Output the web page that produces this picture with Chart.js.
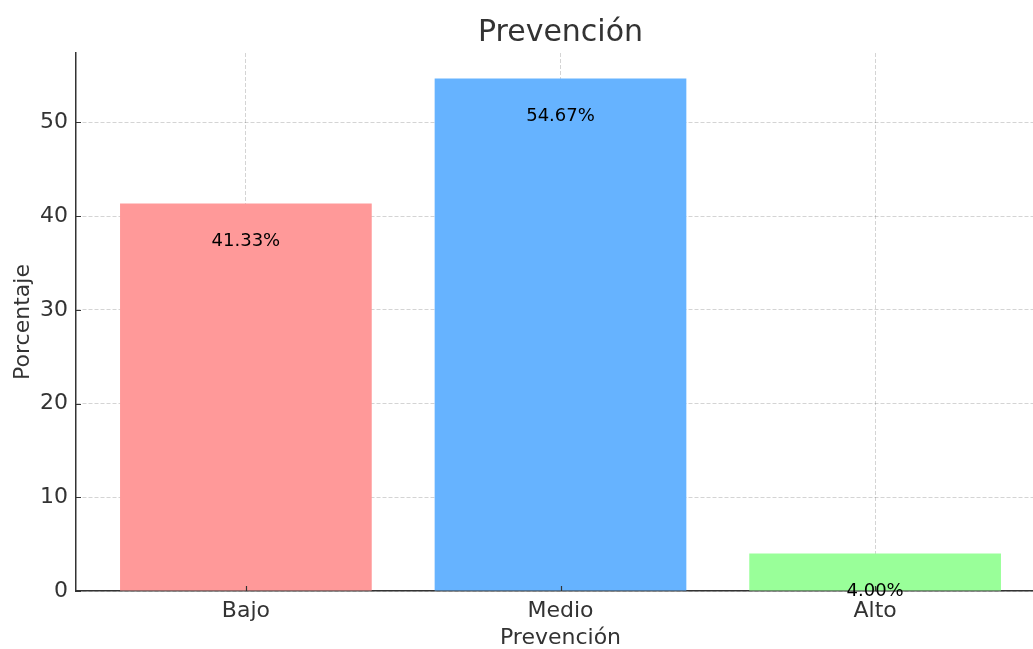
<!DOCTYPE html>
<html>
<head>
<meta charset="utf-8">
<title>Prevención</title>
<script src="https://cdn.jsdelivr.net/npm/chart.js@4.4.1/dist/chart.umd.min.js"></script>
<style>
  html, body { margin: 0; padding: 0; background: #fff; overflow: hidden; }
  #wrap { position: absolute; left: 0; top: 0; width: 1050px; height: 649px; }
</style>
</head>
<body>
<div id="wrap"><canvas id="chart-prevencion"></canvas></div>
<script>
// Prevención: porcentaje por nivel
const categories = ['Bajo', 'Medio', 'Alto'];
const percentages = [41.33, 54.67, 4.00];
const barColors = ['#ff9999', '#66b3ff', '#99ff99'];
const yTicks = [0, 10, 20, 30, 40, 50];

const FONT = "'DejaVu Sans', sans-serif";
const TEXT = '#333333';
const GRID = 'rgba(0,0,0,0.17)';

// value text inside each bar, a bit below its top
const valueLabels = {
  id: 'valueLabels',
  afterDraw(chart) {
    const { ctx, scales: { x, y } } = chart;
    ctx.save();
    ctx.font = `18px ${FONT}`;
    ctx.fillStyle = '#000';
    ctx.textAlign = 'center';
    ctx.textBaseline = 'middle';
    percentages.forEach((v, i) => {
      ctx.fillText(v.toFixed(2) + '%', x.getPixelForValue(i), y.getPixelForValue(v - 4));
    });
    ctx.restore();
  }
};

// short inward tick marks on the left and bottom spines
const innerTicks = {
  id: 'innerTicks',
  afterDraw(chart) {
    const { ctx, chartArea: area, scales: { x, y } } = chart;
    ctx.save();
    ctx.strokeStyle = TEXT;
    ctx.lineWidth = 1.2;
    ctx.setLineDash([]);
    ctx.beginPath();
    yTicks.forEach(t => {
      const py = Math.round(y.getPixelForValue(t)) + 0.5;
      ctx.moveTo(area.left, py);
      ctx.lineTo(area.left + 5, py);
    });
    categories.forEach((_, i) => {
      const px = Math.round(x.getPixelForValue(i)) + 0.5;
      ctx.moveTo(px, area.bottom);
      ctx.lineTo(px, area.bottom - 5);
    });
    ctx.stroke();
    ctx.restore();
  }
};

const ctx = document.getElementById('chart-prevencion');
new Chart(ctx, {
  type: 'bar',
  data: {
    datasets: [{
      data: percentages.map((v, i) => ({ x: i, y: v })),
      backgroundColor: barColors,
      borderWidth: 0,
      barPercentage: 0.8,
      categoryPercentage: 1.0,
    }],
  },
  options: {
    responsive: true,
    maintainAspectRatio: false,
    animation: false,
    layout: { padding: { left: 0, top: 0, right: 5, bottom: 0 } },
    plugins: {
      legend: { display: false },
      tooltip: { enabled: false },
      title: {
        display: true,
        text: 'Prevención',
        fullSize: false,
        color: TEXT,
        font: { family: FONT, size: 30, weight: 'normal', lineHeight: 1.2 },
        padding: { top: 15, bottom: 2 },
      },
    },
    scales: {
      x: {
        type: 'linear',
        min: -0.54,
        max: 2.54,
        offset: false,
        z: 1,
        afterFit(scale) { scale.height = 58; },
        ticks: {
          stepSize: 1,
          includeBounds: false,
          padding: 7,
          color: TEXT,
          font: { family: FONT, size: 22 },
          callback: v => categories[v] ?? '',
        },
        grid: { color: GRID, lineWidth: 1, drawTicks: false, offset: false },
        border: { display: true, color: TEXT, width: 1.5, dash: [4, 2] },
        title: {
          display: true,
          text: 'Prevención',
          color: TEXT,
          font: { family: FONT, size: 22, lineHeight: 1 },
          padding: { top: 0, bottom: 0 },
        },
      },
      y: {
        min: 0,
        max: 57.4,
        z: 1,
        afterFit(scale) { scale.width = 76; },
        ticks: {
          stepSize: 10,
          includeBounds: false,
          padding: 8,
          color: TEXT,
          font: { family: FONT, size: 22 },
        },
        grid: { color: GRID, lineWidth: 1, drawTicks: false },
        border: { display: true, color: TEXT, width: 1.5, dash: [4, 2] },
        title: {
          display: true,
          text: 'Porcentaje',
          color: TEXT,
          font: { family: FONT, size: 22, lineHeight: 1.2 },
          padding: { top: 10, bottom: 0 },
        },
      },
    },
  },
  plugins: [valueLabels, innerTicks],
});
</script>
</body>
</html>
